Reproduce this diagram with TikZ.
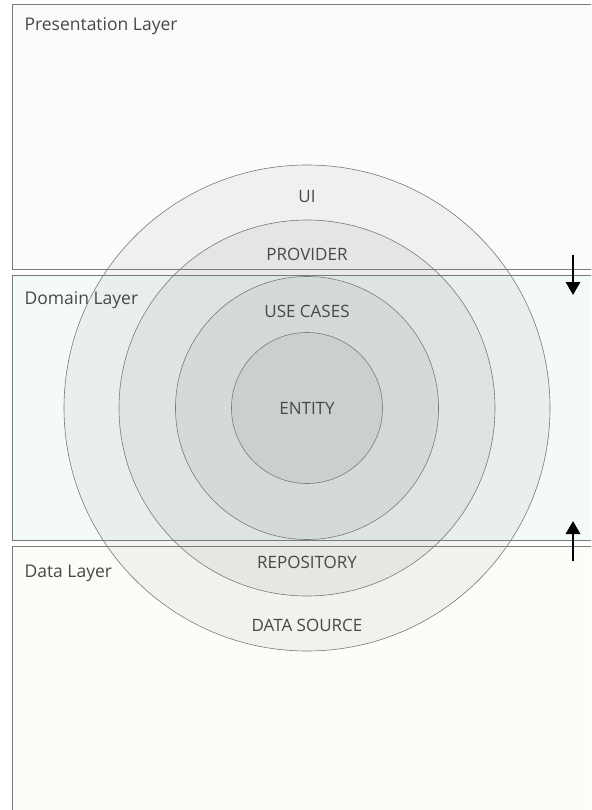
\documentclass[tikz,border=0pt]{standalone}
\usepackage{fontspec}
\setmainfont{Open Sans}
\usetikzlibrary{arrows.meta,positioning}
\definecolor{presfill}{HTML}{FCFAFB}
\definecolor{domfill}{HTML}{F4F9FA}
\definecolor{datafill}{HTML}{FDFCF8}
\definecolor{edgegray}{HTML}{7A7A7A}
\definecolor{txtgray}{HTML}{484848}

\begin{document}
\begin{tikzpicture}[x=1pt,y=-1pt,
	layer/.style={draw=edgegray,line width=0.9pt},
	ring/.style={circle,draw=edgegray,line width=0.6pt,fill=black,fill opacity=0.045,inner sep=0pt},
	ringlabel/.style={text=txtgray,font=\fontsize{17}{20}\selectfont},
	layerlabel/.style={text=txtgray,font=\fontsize{17.5}{21}\selectfont,anchor=west},
	flow/.style={line width=2.8pt,-{Triangle[width=14pt,length=13pt]}}]
\clip (0,0) rectangle (591,810);
\fill[presfill] (12,4) rectangle (600,269);
\fill[domfill] (12,275.5) rectangle (600,540);
\fill[datafill] (12,546) rectangle (600,820);
\node[ring, minimum size=486pt] (ui) at (307,408) {};
\node[ring, minimum size=376pt] (provider) at (307,408) {};
\node[ring, minimum size=263pt] (usecases) at (307,408) {};
\node[ring, minimum size=151pt] (entity) at (307,408) {};
\draw[layer] (600,4) -- (12,4) -- (12,269) -- (600,269);
\draw[layer] (600,275.5) -- (12,275.5) -- (12,540) -- (600,540);
\draw[layer] (600,546) -- (12,546) -- (12,820);
\node[layerlabel] (preslabel) at (21,26) {Presentation Layer};
\node[layerlabel] (domlabel) at (21,300) {Domain Layer};
\node[layerlabel] (datalabel) at (21,573) {Data Layer};
\node[ringlabel] (uilabel) at (307,197) {UI};
\node[ringlabel] (providerlabel) at (307,254) {PROVIDER};
\node[ringlabel] (usecaseslabel) at (307,311) {USE CASES};
\node[ringlabel] (entitylabel) at (entity) {ENTITY};
\node[ringlabel] (repolabel) at (307,562) {REPOSITORY};
\node[ringlabel] (sourcelabel) at (307,625) {DATA SOURCE};
\coordinate (downtail) at (573,255);
\coordinate (downhead) at (573,295);
\coordinate (uptail) at (573,561);
\coordinate (uphead) at (573,521);
\draw[flow] (downtail) -- (downhead);
\draw[flow] (uptail) -- (uphead);
\end{tikzpicture}
\end{document}
